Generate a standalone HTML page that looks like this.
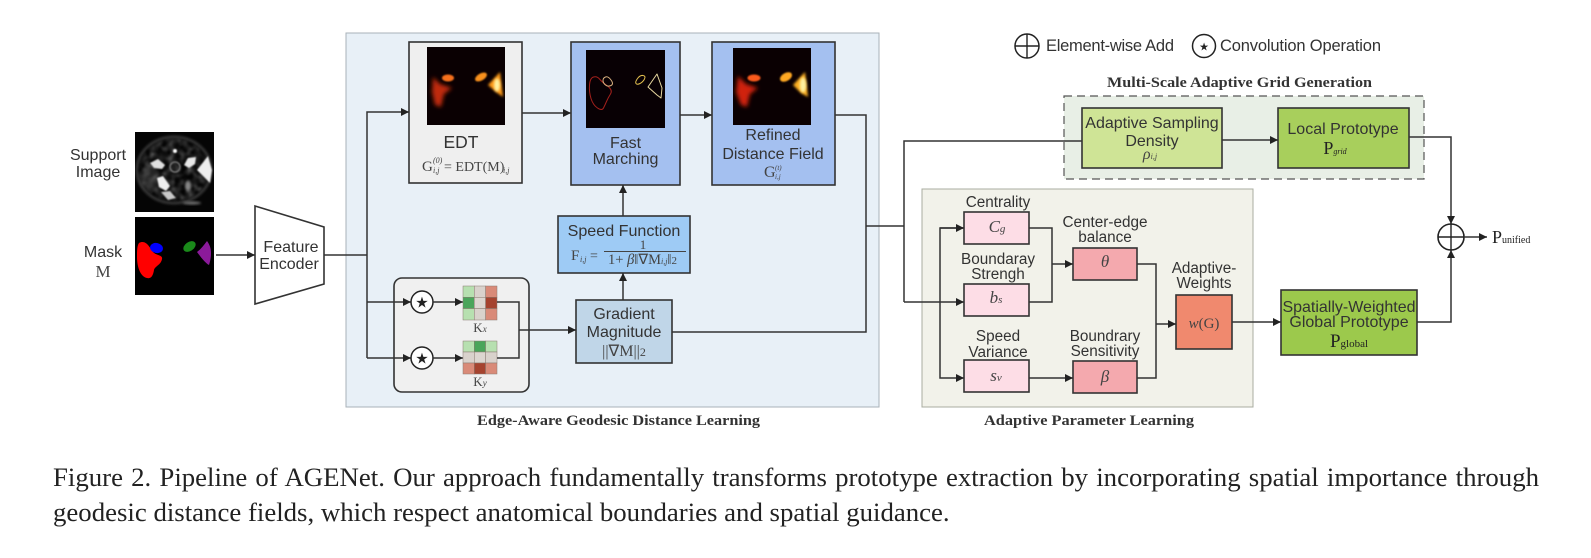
<!DOCTYPE html>
<html><head><meta charset="utf-8"><style>
html,body{margin:0;padding:0;background:#fff;width:1591px;height:558px;overflow:hidden}
svg{position:absolute;left:0;top:0;filter:blur(.35px)}
text{font-family:"Liberation Sans",sans-serif;fill:#333;font-size:16px;text-anchor:middle}
.s{font-family:"Liberation Serif",serif;fill:#444}
.i{font-style:italic}
.l{text-anchor:start}
.t{font-family:"Liberation Serif",serif;font-weight:bold;font-size:14.5px;fill:#333}
.b{stroke:#333;stroke-width:1.6}
.w{fill:none;stroke:#333;stroke-width:1.5}
.a{fill:none;stroke:#333;stroke-width:1.5;marker-end:url(#m)}
.cap{position:absolute;left:53px;font:26.8px/35px "Liberation Serif",serif;color:#222;filter:blur(.3px)}
</style></head><body>
<svg width="1591" height="558" viewBox="0 0 1591 558" xmlns="http://www.w3.org/2000/svg">
<defs>
<marker id="m" markerUnits="userSpaceOnUse" markerWidth="8" markerHeight="8" refX="8" refY="4" orient="auto"><path d="M0,0L8,4L0,8z" fill="#222"/></marker>
<filter id="b1" x="-50%" y="-50%" width="200%" height="200%"><feGaussianBlur stdDeviation="1.2"/></filter>
<filter id="b2" x="-50%" y="-50%" width="200%" height="200%"><feGaussianBlur stdDeviation="2.2"/></filter>
<filter id="b5" x="-50%" y="-50%" width="200%" height="200%"><feGaussianBlur stdDeviation=".9"/></filter>
<filter id="tx" x="-5%" y="-5%" width="110%" height="110%" color-interpolation-filters="sRGB"><feTurbulence type="fractalNoise" baseFrequency=".16" numOctaves="2" seed="4"/><feColorMatrix values="1.1 0 0 0 -.36 1.1 0 0 0 -.36 1.1 0 0 0 -.36 0 0 0 1 0"/><feComposite in2="SourceAlpha" operator="in"/><feGaussianBlur stdDeviation="1"/></filter>
<clipPath id="c1"><rect x="135" y="132" width="79" height="80"/></clipPath>
<clipPath id="c2"><rect x="427" y="47" width="78" height="78"/></clipPath>
<clipPath id="c3"><rect x="733" y="48" width="78" height="77"/></clipPath>
</defs>

<!-- panels -->
<rect x="346" y="33" width="533" height="374" fill="#e8f0f7" stroke="#a9b2b8" stroke-width="1"/>
<rect x="922" y="189" width="331" height="218" fill="#f2f2ea" stroke="#a9aca0" stroke-width="1"/>
<rect x="1064" y="96" width="360" height="83" fill="#e8efe6" stroke="#555" stroke-width="1.2" stroke-dasharray="8 5"/>
<rect x="394" y="278" width="135" height="114" rx="8" fill="#f0f0f0" stroke="#333" stroke-width="1.6"/>

<!-- input images -->
<rect x="135" y="132" width="79" height="80" fill="#050505"/>
<g clip-path="url(#c1)">
<ellipse cx="174" cy="170" rx="37" ry="33" fill="none" stroke="#3e3e3e" stroke-width="2.5" filter="url(#b1)"/>
<ellipse cx="174" cy="170" rx="35" ry="31" fill="#000" filter="url(#tx)"/>
<ellipse cx="150" cy="178" rx="10" ry="12" fill="#666" opacity=".35" filter="url(#b2)"/>
<path d="M150,163L158,159L165,165L162,169L154,168z" fill="#e0e0e0" filter="url(#b5)"/>
<path d="M184,165L188,158L196,157L195,164L189,168z" fill="#e8e8e8" filter="url(#b5)"/>
<path d="M197,170L208,156L212,170L210,183z" fill="#eee" filter="url(#b5)"/>
<path d="M157,178L163,176L170,186L166,191L159,187z" fill="#eee" filter="url(#b5)"/>
<path d="M161,192L170,191L176,198L168,200z" fill="#c8c8c8" filter="url(#b5)"/>
<circle cx="175" cy="167" r="5" fill="none" stroke="#777" stroke-width="1.5" filter="url(#b5)"/>
<circle cx="175" cy="151" r="2" fill="#fff" filter="url(#b5)"/>
<ellipse cx="188" cy="186" rx="3" ry="5" fill="#888" filter="url(#b1)"/>
<ellipse cx="192" cy="203" rx="9" ry="1.5" fill="#777" filter="url(#b1)"/>
</g>
<rect x="135" y="217" width="79" height="78" fill="#000"/>
<path d="M139,243C146,239 150,248 153,252C157,256 163,255 162,259C161,265 155,266 154,270C153,276 151,279 147,278C141,277 137,268 137,257C137,251 137,246 139,243z" fill="#f00"/>
<ellipse cx="156.5" cy="248" rx="6.5" ry="5" fill="#00f" transform="rotate(12 156.5 248)"/>
<ellipse cx="189.5" cy="246.5" rx="6.8" ry="4.5" fill="#1a8a1a" transform="rotate(-35 189.5 246.5)"/>
<path d="M197,252C201,249 204,245 207,241C210,245 211,249 211,253C211,258 210,262 209,265C205,263 200,256 197,252z" fill="#8b1a9a"/>

<text x="98" y="160">Support</text><text x="98" y="177">Image</text>
<text x="103" y="257">Mask</text><text x="103" y="277" class="s" style="font-size:17px">M</text>

<!-- encoder -->
<polygon points="255,206 324,227 324,284 255,304" fill="#fff" stroke="#333" stroke-width="1.6"/>
<text x="291" y="252">Feature</text><text x="289" y="269">Encoder</text>
<path class="a" d="M216,255H255"/>
<path class="w" d="M324,255H367"/>
<path class="a" d="M367,358V112H409"/>
<path class="a" d="M367,302H411"/>
<path class="a" d="M367,358H411"/>

<!-- EDT -->
<rect x="409" y="42" width="113" height="141" fill="#efefef" class="b"/>
<rect x="427" y="47" width="78" height="78" fill="#0a0002"/>
<g clip-path="url(#c2)">
<path d="M433,77L440,84L452,88L444,94L441,107L435,105L432,92z" fill="#c02a0a" filter="url(#b2)"/>
<ellipse cx="448" cy="78" rx="6" ry="3.5" fill="#f5701a" filter="url(#b5)"/>
<ellipse cx="481" cy="77" rx="6.5" ry="3.5" fill="#f8901a" filter="url(#b5)" transform="rotate(-30 481 77)"/>
<path d="M488,85L500,72L503,97L496,92z" fill="#ff9a18" filter="url(#b1)"/>
<ellipse cx="497" cy="85" rx="3" ry="6.5" fill="#fff2a0" filter="url(#b1)"/>
</g>
<text x="461" y="148" style="font-size:17.5px">EDT</text>
<text x="422" y="171" class="s l" style="font-size:15px">G</text>
<text x="433" y="163" class="s i l" style="font-size:8px">(0)</text>
<text x="433" y="173" class="s i l" style="font-size:8px">i,j</text>
<text x="444" y="171" class="s l" style="font-size:14px">= EDT(M)</text>
<text x="503" y="173" class="s i l" style="font-size:8px">i,j</text>

<path class="a" d="M522,113H571"/>

<!-- Fast -->
<rect x="571" y="42" width="109" height="143" fill="#a4c0f0" class="b"/>
<rect x="586" y="50" width="79" height="78" fill="#080004"/>
<g fill="none" stroke-width="1" stroke-linejoin="round">
<path d="M589.5,85Q590,78 593.5,77Q597,76 599.5,79Q602,82 607.5,86Q613,90 610.5,94Q608,98 606.5,101.5Q605,105 603.5,108Q602,111 597.5,108Q593,105 591,98.5Q589,92 589.5,85z" stroke="#a3201c"/>
<path d="M603,80.5Q603,78 605.5,77Q608,76 611,80Q614,84 611,85.5Q608,87 605.5,85Q603,83 603,80.5z" stroke="#d9b080"/>
<path d="M636,83.5Q635,82 637.5,78.5Q640,75 643,75.5Q646,76 644.5,79Q643,82 640,83.5Q637,85 636,83.5z" stroke="#e3c050"/>
<path d="M648,87L657,74L662,88L661,98L657,95z" stroke="#e8d8a0"/>
</g>
<text x="625.5" y="148">Fast</text><text x="625.5" y="164">Marching</text>

<path class="a" d="M680,115H712"/>

<!-- Refined -->
<rect x="712" y="42" width="123" height="143" fill="#a4c0f0" class="b"/>
<rect x="733" y="48" width="78" height="77" fill="#0a0002"/>
<g clip-path="url(#c3)">
<path d="M738,76L746,84L758,88L750,94L747,107L741,105L736,92z" fill="#d0220a" filter="url(#b2)"/>
<ellipse cx="754" cy="78" rx="6.5" ry="3.5" fill="#fb5a1a" filter="url(#b5)"/>
<ellipse cx="786" cy="77" rx="6.5" ry="4" fill="#ffa820" filter="url(#b5)" transform="rotate(-30 786 77)"/>
<path d="M793,85L805,72L808,97L801,93z" fill="#ffb020" filter="url(#b1)"/>
<ellipse cx="803" cy="85" rx="3.2" ry="7.5" fill="#fff2a0" filter="url(#b1)"/>
</g>
<text x="773" y="140">Refined</text><text x="773" y="159">Distance Field</text>
<text x="764" y="177" class="s l" style="font-size:16px">G</text>
<text x="775" y="170" class="s i l" style="font-size:7px">(t)</text>
<text x="775" y="179" class="s i l" style="font-size:7px">i,j</text>

<!-- Speed -->
<path class="a" d="M623,216V185"/>
<rect x="558" y="216" width="132" height="57" fill="#9ecbf5" class="b"/>
<text x="624" y="236" style="font-size:16.1px">Speed Function</text>
<text x="571" y="260" class="s l" style="font-size:15px">F</text>
<text x="580" y="262" class="s i l" style="font-size:8px">i,j</text>
<text x="590" y="260" class="s l" style="font-size:14px">=</text>
<rect x="604" y="251" width="82" height="1" fill="#444"/>
<text x="643" y="249" class="s" style="font-size:13px">1</text>
<text x="608" y="264" class="s l" style="font-size:14.5px">1+ <tspan font-style="italic">β</tspan>‖∇M<tspan font-size="8" font-style="italic">i,j</tspan>‖<tspan font-size="11">2</tspan></text>

<!-- Gradient -->
<path class="a" d="M623,300V273"/>
<rect x="576" y="300" width="96" height="63" fill="#c0d6e8" class="b"/>
<text x="624" y="319">Gradient</text><text x="624" y="337">Magnitude</text>
<text x="624" y="356" class="s" style="font-size:16px">||∇M||<tspan font-size="12">2</tspan></text>

<!-- conv -->
<circle cx="422" cy="302" r="11" fill="#fff" stroke="#222" stroke-width="1.5"/>
<circle cx="422" cy="358" r="11" fill="#fff" stroke="#222" stroke-width="1.5"/>
<text x="422" y="307.5" style="font-size:15px;fill:#222">★</text>
<text x="422" y="363.5" style="font-size:15px;fill:#222">★</text>
<path class="a" d="M433,302H463"/><path class="a" d="M433,358H463"/>

<!-- kernels -->
<g stroke="#8a7a70" stroke-width=".5">
<rect x="463" y="286" width="11.3" height="11.3" fill="#b7e0b0"/><rect x="474.3" y="286" width="11.3" height="11.3" fill="#d9d2cc"/><rect x="485.6" y="286" width="11.4" height="11.3" fill="#d98a78"/>
<rect x="463" y="297.3" width="11.3" height="11.3" fill="#4aa55a"/><rect x="474.3" y="297.3" width="11.3" height="11.3" fill="#dcd6d0"/><rect x="485.6" y="297.3" width="11.4" height="11.3" fill="#a5432f"/>
<rect x="463" y="308.6" width="11.3" height="11.4" fill="#b7e0b0"/><rect x="474.3" y="308.6" width="11.3" height="11.4" fill="#d9d2cc"/><rect x="485.6" y="308.6" width="11.4" height="11.4" fill="#d98a78"/>
<rect x="463" y="341" width="11.3" height="11" fill="#b7e0b0"/><rect x="474.3" y="341" width="11.3" height="11" fill="#4aa55a"/><rect x="485.6" y="341" width="11.4" height="11" fill="#b7e0b0"/>
<rect x="463" y="352" width="11.3" height="11" fill="#d9d2cc"/><rect x="474.3" y="352" width="11.3" height="11" fill="#dcd6d0"/><rect x="485.6" y="352" width="11.4" height="11" fill="#d9d2cc"/>
<rect x="463" y="363" width="11.3" height="11" fill="#d98a78"/><rect x="474.3" y="363" width="11.3" height="11" fill="#a5432f"/><rect x="485.6" y="363" width="11.4" height="11" fill="#d98a78"/>
</g>
<text x="480" y="332" class="s" style="font-size:13px">K<tspan font-size="9" font-style="italic">x</tspan></text>
<text x="480" y="386" class="s" style="font-size:13px">K<tspan font-size="9" font-style="italic">y</tspan></text>
<path class="w" d="M497,302H519V358H497"/>
<path class="a" d="M519,330H576"/>

<!-- connectors right of edge panel -->
<path class="w" d="M835,115H866V332H672"/>
<path class="w" d="M866,226H904"/>
<path class="w" d="M1082,141H904V302"/>
<path class="a" d="M904,302H964"/>
<path class="a" d="M964,228H940V378H964"/>
<path class="a" d="M940,228H964"/>

<!-- adaptive -->
<rect x="964" y="212" width="65" height="32" fill="#fddde6" class="b"/>
<rect x="964" y="284" width="65" height="32" fill="#fddde6" class="b"/>
<rect x="964" y="360" width="65" height="32" fill="#fddde6" class="b"/>
<rect x="1073" y="248" width="64" height="32" fill="#f4a9ae" class="b"/>
<rect x="1073" y="361" width="64" height="32" fill="#f4a9ae" class="b"/>
<rect x="1176" y="295" width="56" height="54" fill="#f0896e" class="b"/>
<path class="w" d="M1029,228H1052V302H1029"/>
<path class="a" d="M1052,264H1073"/>
<path class="a" d="M1029,378H1073"/>
<path class="w" d="M1137,264H1156V378H1137"/>
<path class="a" d="M1156,324H1176"/>
<path class="a" d="M1232,322H1281"/>
<text x="998" y="207" style="font-size:15.3px">Centrality</text>
<text x="1105" y="227" style="font-size:15.3px">Center-edge</text><text x="1105" y="242" style="font-size:15.3px">balance</text>
<text x="998" y="264" style="font-size:15.3px">Boundaray</text><text x="998" y="279" style="font-size:15.3px">Strengh</text>
<text x="998" y="341" style="font-size:15.3px">Speed</text><text x="998" y="357" style="font-size:15.3px">Variance</text>
<text x="1105" y="341" style="font-size:15.3px">Boundrary</text><text x="1105" y="356" style="font-size:15.3px">Sensitivity</text>
<text x="1204" y="273" style="font-size:15.3px">Adaptive-</text><text x="1204" y="288" style="font-size:15.3px">Weights</text>
<text x="997" y="232" class="s i" style="font-size:17px">C<tspan font-size="11">g</tspan></text>
<text x="996" y="303" class="s i" style="font-size:17px">b<tspan font-size="11">s</tspan></text>
<text x="996" y="381" class="s i" style="font-size:17px">s<tspan font-size="11">v</tspan></text>
<text x="1105" y="267" class="s i" style="font-size:17px">θ</text>
<text x="1105" y="382" class="s i" style="font-size:17px">β</text>
<text x="1204" y="328" class="s" style="font-size:15px"><tspan font-style="italic">w</tspan>(G)</text>

<!-- grid -->
<rect x="1082" y="108" width="140" height="60" fill="#cfe496" class="b"/>
<rect x="1278" y="108" width="131" height="60" fill="#a8cf5c" class="b"/>
<path class="a" d="M1222,140H1278"/>
<text x="1152" y="128">Adaptive Sampling</text><text x="1152" y="146">Density</text>
<text x="1150" y="159" class="s i" style="font-size:16px">ρ<tspan font-size="8">i,j</tspan></text>
<text x="1343" y="134">Local Prototype</text>
<text x="1335" y="154" class="s" style="font-size:18px;fill:#222">P<tspan font-size="8" font-style="italic">grid</tspan></text>

<!-- global -->
<rect x="1281" y="290" width="136" height="65" fill="#9cc94c" class="b"/>
<text x="1349" y="312">Spatially-Weighted</text><text x="1349" y="327">Global Prototype</text>
<text x="1349" y="347" class="s" style="font-size:19px;fill:#222">P<tspan font-size="11">global</tspan></text>

<!-- sum -->
<path class="a" d="M1409,137H1451V224"/>
<path class="a" d="M1417,322H1451V250"/>
<circle cx="1451" cy="237" r="13" fill="#fff" stroke="#222" stroke-width="1.6"/>
<path d="M1438,237H1464M1451,224V250" stroke="#222" stroke-width="1.4"/>
<path class="a" d="M1464,237H1487"/>
<text x="1492" y="243" class="s l" style="font-size:18px;fill:#222">P<tspan font-size="10">unified</tspan></text>

<!-- legend -->
<circle cx="1027" cy="46" r="12" fill="#fff" stroke="#222" stroke-width="1.5"/>
<path d="M1015,46H1039M1027,34V58" stroke="#222" stroke-width="1.4"/>
<text x="1046" y="51" class="l" style="font-size:16.5px" textLength="128">Element-wise Add</text>
<circle cx="1204" cy="46" r="11.5" fill="#fff" stroke="#222" stroke-width="1.5"/>
<text x="1204" y="50.5" style="font-size:11px;fill:#222">★</text>
<text x="1220" y="51" class="l" style="font-size:16.5px" textLength="161">Convolution Operation</text>

<!-- titles -->
<text x="1107" y="87" class="t l" textLength="265" lengthAdjust="spacingAndGlyphs">Multi-Scale Adaptive Grid Generation</text>
<text x="477" y="425" class="t l" textLength="283" lengthAdjust="spacingAndGlyphs">Edge-Aware Geodesic Distance Learning</text>
<text x="984" y="425" class="t l" textLength="210" lengthAdjust="spacingAndGlyphs">Adaptive Parameter Learning</text>
</svg>
<div class="cap" style="top:459.5px;width:1486px;text-align:justify;text-align-last:justify">Figure 2. Pipeline of AGENet. Our approach fundamentally transforms prototype extraction by incorporating spatial importance through</div>
<div class="cap" style="top:494.5px;white-space:nowrap">geodesic distance fields, which respect anatomical boundaries and spatial guidance.</div>
</body></html>
